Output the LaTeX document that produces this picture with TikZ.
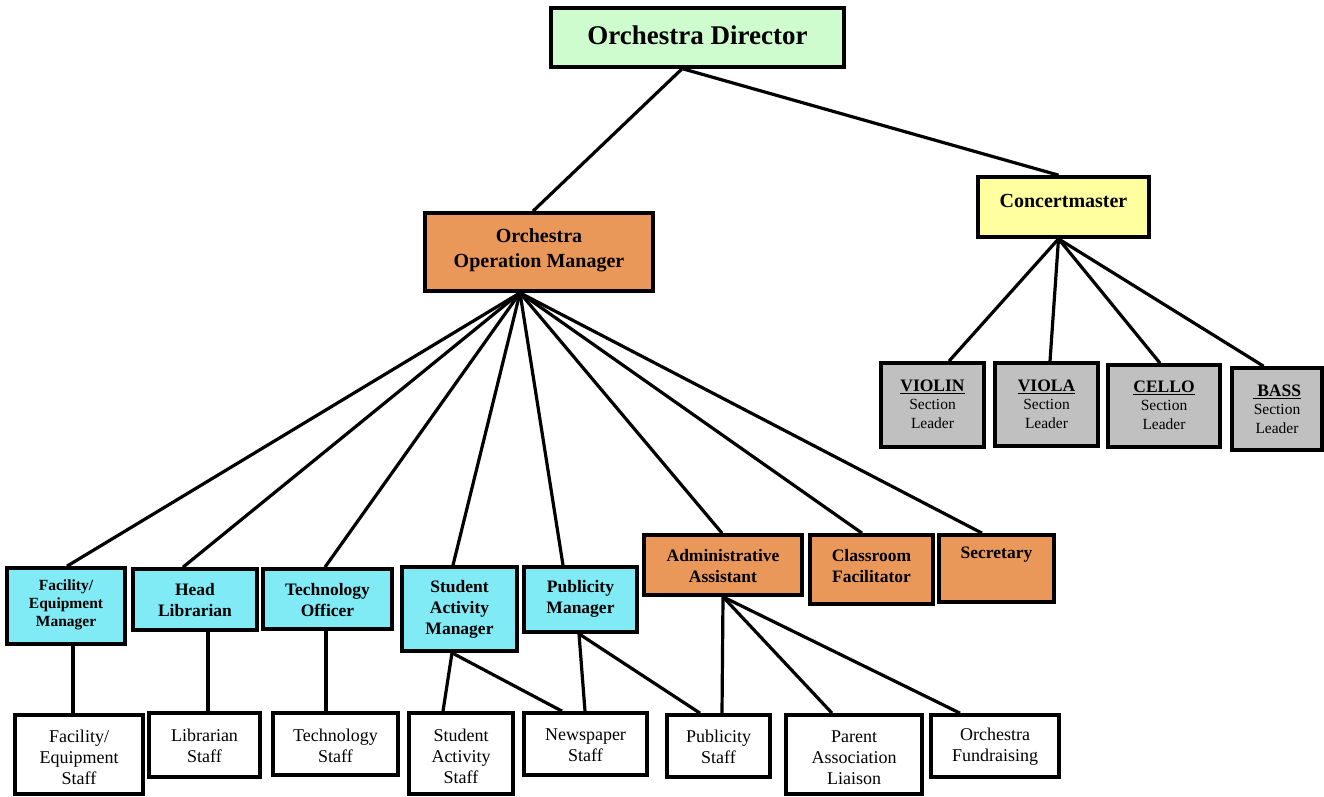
\documentclass[tikz,border=0pt]{standalone}
\usepackage{fontspec}
\setmainfont{Liberation Serif}
\definecolor{dirgreen}{RGB}{206,252,206}
\definecolor{oporange}{RGB}{234,152,90}
\definecolor{mgrcyan}{RGB}{128,234,245}
\definecolor{cmyellow}{RGB}{255,255,160}
\definecolor{leadgray}{RGB}{192,192,192}
\newcommand\orgbox[9]{%
  \node[obox,#2,minimum width={(#6-#4)*1pt},minimum height={(#7-#5)*1pt}] (#1) at ({(#4+#6)/2},{(#5+#7)/2}) {};
  \node[#3] (#1-t) at ({(#4+#6)/2},#8) {#9};
}
\tikzset{
  obox/.style={draw, rectangle, line width=3.7pt, inner sep=0pt},
  fgreen/.style={fill=dirgreen},
  forange/.style={fill=oporange},
  fcyan/.style={fill=mgrcyan},
  fyellow/.style={fill=cmyellow},
  fgray/.style={fill=leadgray},
  fwhite/.style={fill=white},
  tbase/.style={inner sep=0pt, align=center},
  tdir/.style={tbase, font=\fontsize{27}{32}\selectfont\bfseries},
  tbig/.style={tbase, font=\fontsize{20}{25}\selectfont\bfseries},
  tmgr/.style={tbase, font=\fontsize{17.5}{21}\selectfont\bfseries},
  tsmall/.style={tbase, font=\fontsize{15.5}{18}\selectfont\bfseries},
  tstaff/.style={tbase, font=\fontsize{18}{21}\selectfont},
  tlead/.style={tbase, font=\fontsize{15.5}{18.5}\selectfont},
  conn/.style={line width=3.2pt},
}
\newcommand\leadhead[1]{{\fontsize{17.5}{18.5}\selectfont\bfseries\underline{#1}}}
\begin{document}
\begin{tikzpicture}[x=1pt,y=-1pt]
\useasboundingbox (0,0) rectangle (1324,796);
% top
\orgbox{dir}{fgreen}{tdir}{551}{8}{844}{67}{35}{Orchestra Director}
\orgbox{oom}{forange}{tbig}{425}{213}{653}{291}{250}{Orchestra\\Operation Manager}
\orgbox{cm}{fyellow}{tbig}{978}{177}{1149}{237}{201}{Concertmaster}
% section leaders
\orgbox{violin}{fgray}{tlead}{881}{363}{984}{447}{404}{\leadhead{VIOLIN}\\Section\\Leader}
\orgbox{viola}{fgray}{tlead}{995}{363}{1098}{446}{404}{\leadhead{VIOLA}\\Section\\Leader}
\orgbox{cello}{fgray}{tlead}{1108}{365}{1220}{447}{405}{\leadhead{CELLO}\\Section\\Leader}
\orgbox{bass}{fgray}{tlead}{1232}{368}{1322}{450}{409}{\leadhead{\ BASS}\\Section\\Leader}
% managers
\orgbox{fem}{fcyan}{tsmall}{7}{568}{125}{644}{605}{Facility/\\Equipment\\Manager}
\orgbox{hl}{fcyan}{tmgr}{133}{569}{257}{630}{600.5}{Head\\Librarian}
\orgbox{tech}{fcyan}{tmgr}{263}{569}{392}{629}{600.5}{Technology\\Officer}
\orgbox{sam}{fcyan}{tmgr}{402}{567}{517}{651}{609}{Student\\Activity\\Manager}
\orgbox{pm}{fcyan}{tmgr}{524}{567}{637}{632}{598.5}{Publicity\\Manager}
\orgbox{aa}{forange}{tmgr}{644}{535}{802}{595}{566}{Administrative\\Assistant}
\orgbox{cf}{forange}{tmgr}{810}{535}{933}{604}{566}{Classroom\\Facilitator}
\orgbox{sec}{forange}{tmgr}{939}{535}{1054}{602}{555}{Secretary}
% staff
\orgbox{fes}{fwhite}{tstaff}{15}{715}{143}{794}{757.5}{Facility/\\Equipment\\Staff}
\orgbox{ls}{fwhite}{tstaff}{149}{713}{260}{777}{745.5}{Librarian\\Staff}
\orgbox{ts}{fwhite}{tstaff}{273}{713}{398}{775}{745.5}{Technology\\Staff}
\orgbox{sas}{fwhite}{tstaff}{409}{713}{513}{794}{756}{Student\\Activity\\Staff}
\orgbox{ns}{fwhite}{tstaff}{524}{713}{647}{775}{745.5}{Newspaper\\Staff}
\orgbox{ps}{fwhite}{tstaff}{667}{715}{770}{777}{747}{Publicity\\Staff}
\orgbox{pal}{fwhite}{tstaff}{786}{715}{922}{794}{758}{Parent\\Association\\Liaison}
\orgbox{of}{fwhite}{tstaff}{931}{715}{1059}{777}{747}{Orchestra\\Fundraising}
% connectors
\begin{scope}[conn]
\draw ([xshift=-15.5]dir.south) -- ([xshift=-6]oom.north);
\draw ([xshift=-14.5]dir.south) -- ([xshift=-5]cm.north);
\draw ([xshift=-5]cm.south) -- ([xshift=16.5]violin.north);
\draw ([xshift=-5]cm.south) -- ([xshift=3.5]viola.north);
\draw ([xshift=-5]cm.south) -- ([xshift=-4]cello.north);
\draw ([xshift=-5]cm.south) -- ([xshift=-13.5]bass.north);
\draw ([xshift=-19]oom.south) -- ([xshift=1]fem.north);
\draw ([xshift=-19]oom.south) -- ([xshift=-12]hl.north);
\draw ([xshift=-19]oom.south) -- ([xshift=-2.5]tech.north);
\draw ([xshift=-19]oom.south) -- ([xshift=-6.5]sam.north);
\draw ([xshift=-19]oom.south) -- ([xshift=-17.5]pm.north);
\draw ([xshift=-19]oom.south) -- ([xshift=-1]aa.north);
\draw ([xshift=-19]oom.south) -- ([xshift=-9.5]cf.north);
\draw ([xshift=-19]oom.south) -- ([xshift=-14.5]sec.north);
\draw ([xshift=7]fem.south) -- ([xshift=-6]fes.north);
\draw ([xshift=13]hl.south) -- ([xshift=3.5]ls.north);
\draw ([xshift=-1.5]tech.south) -- ([xshift=-9.5]ts.north);
\draw ([xshift=-7.5]sam.south) -- ([xshift=-18]sas.north);
\draw ([xshift=-7.5]sam.south) -- ([xshift=-23.5]ns.north);
\draw ([xshift=-1.5]pm.south) -- ([xshift=-0.5]ns.north);
\draw ([xshift=-1.5]pm.south) -- ([xshift=-18.5]ps.north);
\draw (aa.south) -- ([xshift=3.5]ps.north);
\draw (aa.south) -- ([xshift=-22]pal.north);
\draw (aa.south) -- ([xshift=-35]of.north);
\end{scope}
\end{tikzpicture}
\end{document}
